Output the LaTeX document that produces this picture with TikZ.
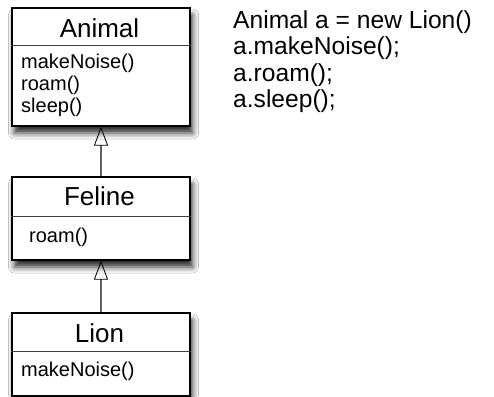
\documentclass[tikz,border=0pt]{standalone}
\usepackage{fontspec}
\setmainfont{Liberation Sans}
\usetikzlibrary{arrows.meta,shadows.blur}
\begin{document}
\begin{tikzpicture}[x=1bp,y=-1bp,
  classbox/.style={draw=black, line width=1.2bp, fill=white, minimum width=178bp,
    inner sep=0pt,
    blur shadow={shadow xshift=2.5bp, shadow yshift=-7bp, shadow blur radius=6bp, shadow opacity=85}},
  sepline/.style={draw=black!75, line width=1bp},
  classname/.style={anchor=base, inner sep=0pt, font=\fontsize{26bp}{30bp}\selectfont},
  method/.style={anchor=base west, inner sep=0pt, font=\fontsize{20bp}{22bp}\selectfont},
  code/.style={anchor=base west, inner sep=0pt, font=\fontsize{24.6bp}{27bp}\selectfont},
  inherit/.style={draw=black!62, line width=1.5bp,
    -{Triangle[open, length=19bp, width=14bp, color=black, line width=0.8bp]}}
]
\clip (0,0) rectangle (494,396);
\fill[white] (0,0) rectangle (494,396);

% class boxes
\node[classbox, minimum height=118bp] (animal) at (101,67) {};
\node[classbox, minimum height=83bp] (feline) at (101,218.5) {};
\node[classbox, minimum height=83bp] (lion) at (101,354.5) {};

% header / body separators
\draw[sepline] (animal.west |- 0,45) -- (animal.east |- 0,45);
\draw[sepline] (feline.west |- 0,216) -- (feline.east |- 0,216);
\draw[sepline] (lion.west |- 0,351) -- (lion.east |- 0,351);

% class names
\node[classname] (animalname) at (99.5,37) {Animal};
\node[classname] (felinename) at (99.5,205) {Feline};
\node[classname] (lionname) at (99.5,342) {Lion};

% methods
\node[method] (am1) at (21,68.3) {makeNoise()};
\node[method] (am2) at (21,90.5) {roam()};
\node[method] (am3) at (21,112.5) {sleep()};
\node[method] (fm1) at (29,242) {roam()};
\node[method] (lm1) at (21,376) {makeNoise()};

% generalisation arrows
\draw[inherit] (feline.north) -- (animal.south);
\draw[inherit] (lion.north) -- (feline.south);

% code sample
\node[code] (c1) at (233,28) {Animal a = new Lion()};
\node[code] (c2) at (233,54.5) {a.makeNoise();};
\node[code] (c3) at (233,81) {a.roam();};
\node[code] (c4) at (233,107.5) {a.sleep();};
\end{tikzpicture}
\end{document}
